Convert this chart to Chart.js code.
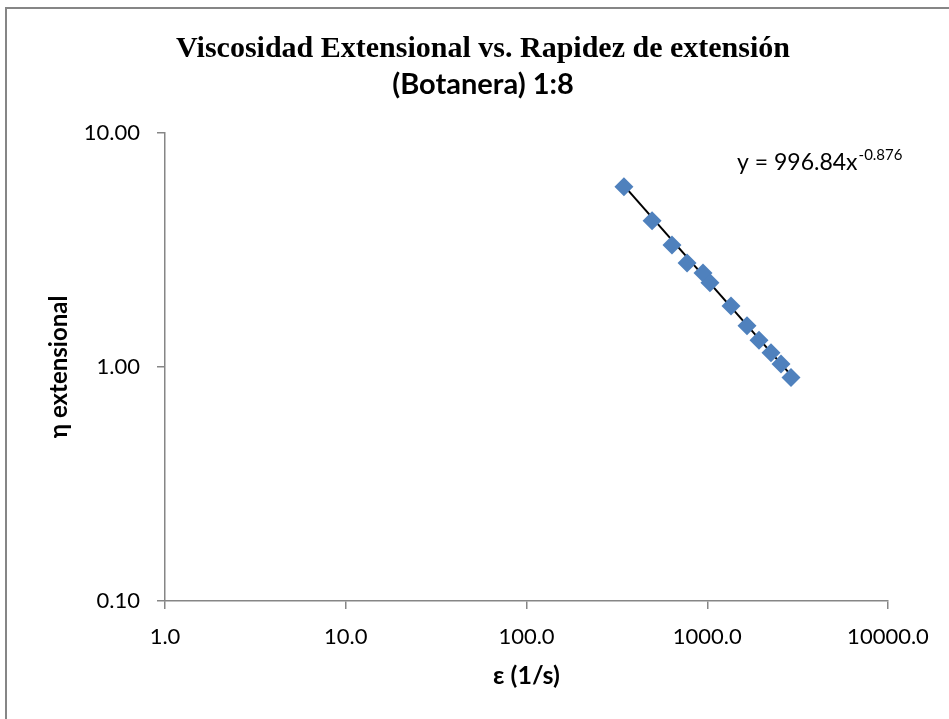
<!DOCTYPE html>
<html lang="es">
<head>
    <meta charset="UTF-8">
    <title>Viscosidad Extensional vs. Rapidez de extensión</title>
    <script src="https://cdn.jsdelivr.net/npm/chart.js@4.4.0/dist/chart.umd.min.js"></script>
    <style>
        html, body { margin: 0; padding: 0; background: #fff; overflow: hidden; }
        /* the chart object is a bit wider than the window, its right edge is cut off */
        #wrap { width: 949px; height: 719px; overflow: hidden; }
    </style>
</head>
<body>
    <div id="wrap"><canvas id="viscChart" width="960" height="719"></canvas></div>

    <script>
        // Rapidez de extensión (1/s) and viscosidad extensional measured
        const rates = [346, 495, 638, 773, 947, 1035, 1353, 1659, 1933, 2252, 2559, 2906];
        const etaExt = [5.88, 4.21, 3.32, 2.78, 2.52, 2.29, 1.82, 1.50, 1.30, 1.15, 1.03, 0.90];

        // Potential trend line y = a * x^b
        const fitCoef = 996.84;
        const fitExp = -0.876;

        // Axis tick values (log decades)
        const xTicks = [1, 10, 100, 1000, 10000];
        const yTicks = [0.1, 1, 10];

        const trendX = [rates[0], rates[rates.length - 1]];
        const trendPts = trendX.map(x => ({ x: x, y: fitCoef * Math.pow(x, fitExp) }));

        const axisGray = '#868686';
        const sans = "Lato, 'Liberation Sans', sans-serif";

        // outer frame of the chart object (only top and left edges fall on the page)
        const framePlugin = {
            id: 'frame',
            beforeDraw(chart) {
                const ctx = chart.ctx;
                ctx.save();
                ctx.strokeStyle = axisGray;
                ctx.lineWidth = 2;
                ctx.strokeRect(6, 8, 2000, 2000);
                ctx.restore();
            }
        };

        // equation label of the trend line, with the exponent raised
        const eqPlugin = {
            id: 'equation',
            afterDraw(chart) {
                const ctx = chart.ctx;
                const base = 'y = ' + fitCoef.toFixed(2) + 'x';
                const sup = fitExp.toFixed(3);
                const x0 = 737, y0 = 170;
                ctx.save();
                ctx.fillStyle = '#000';
                ctx.textBaseline = 'alphabetic';
                ctx.font = '23px ' + sans;
                ctx.fillText(base, x0, y0);
                const w = ctx.measureText(base).width;
                ctx.font = '15px ' + sans;
                ctx.fillText(sup, x0 + w + 1, y0 - 10);
                ctx.restore();
            }
        };

        new Chart(document.getElementById('viscChart'), {
            type: 'scatter',
            data: {
                datasets: [{
                    label: 'Botanera 1:8',
                    data: rates.map((r, i) => ({ x: r, y: etaExt[i] })),
                    pointStyle: 'rectRot',
                    pointRadius: 9.5,
                    backgroundColor: '#4F81BD',
                    borderColor: '#4F81BD',
                    borderWidth: 0,
                    showLine: false
                }, {
                    label: 'Potencial',
                    data: trendPts,
                    showLine: true,
                    borderColor: '#000',
                    borderWidth: 2,
                    pointRadius: 0
                }]
            },
            options: {
                responsive: false,
                animation: false,
                layout: { padding: { left: 6, right: 0, top: 17, bottom: 0 } },
                plugins: {
                    legend: { display: false },
                    tooltip: { enabled: false },
                    title: {
                        display: true,
                        text: 'Viscosidad Extensional vs. Rapidez de extensión',
                        color: '#000',
                        font: { family: "'Liberation Serif', serif", size: 30, weight: 'bold' },
                        padding: { top: 14, bottom: 0 }
                    },
                    subtitle: {
                        display: true,
                        text: '(Botanera) 1:8',
                        color: '#000',
                        font: { family: sans, size: 29, weight: 'bold' },
                        padding: { top: 0, bottom: 31 }
                    }
                },
                scales: {
                    x: {
                        type: 'logarithmic',
                        min: 1,
                        max: 10000,
                        afterBuildTicks: s => { s.ticks = xTicks.map(v => ({ value: v })); },
                        afterFit: s => { s.height = 118; },
                        border: { color: axisGray, width: 1.5 },
                        grid: { drawOnChartArea: false, color: axisGray, tickLength: 8, lineWidth: 1.5 },
                        ticks: {
                            color: '#000',
                            font: { family: sans, size: 22 },
                            padding: 15,
                            maxRotation: 0,
                            autoSkip: false,
                            callback: v => Number(v).toFixed(1)
                        },
                        title: {
                            display: true,
                            text: 'ε (1/s)',
                            color: '#000',
                            font: { family: sans, size: 25, weight: 'bold' },
                            padding: { top: 4, bottom: 28 }
                        }
                    },
                    y: {
                        type: 'logarithmic',
                        min: 0.1,
                        max: 10,
                        afterBuildTicks: s => { s.ticks = yTicks.map(v => ({ value: v })); },
                        afterFit: s => { s.width = 159; },
                        border: { color: axisGray, width: 1.5 },
                        grid: { drawOnChartArea: false, color: axisGray, tickLength: 8, lineWidth: 1.5 },
                        ticks: {
                            color: '#000',
                            font: { family: sans, size: 22 },
                            padding: 17,
                            autoSkip: false,
                            callback: v => Number(v).toFixed(2)
                        },
                        title: {
                            display: true,
                            text: 'η extensional',
                            color: '#000',
                            font: { family: sans, size: 24, weight: 'bold' },
                            padding: { top: 39, bottom: 4 }
                        }
                    },
                    // empty box on the right keeps the plot edge at 10000
                    yRight: {
                        type: 'linear',
                        position: 'right',
                        afterFit: s => { s.width = 72; },
                        border: { display: false },
                        grid: { display: false },
                        ticks: { display: false }
                    }
                }
            },
            plugins: [framePlugin, eqPlugin]
        });
    </script>
</body>
</html>
